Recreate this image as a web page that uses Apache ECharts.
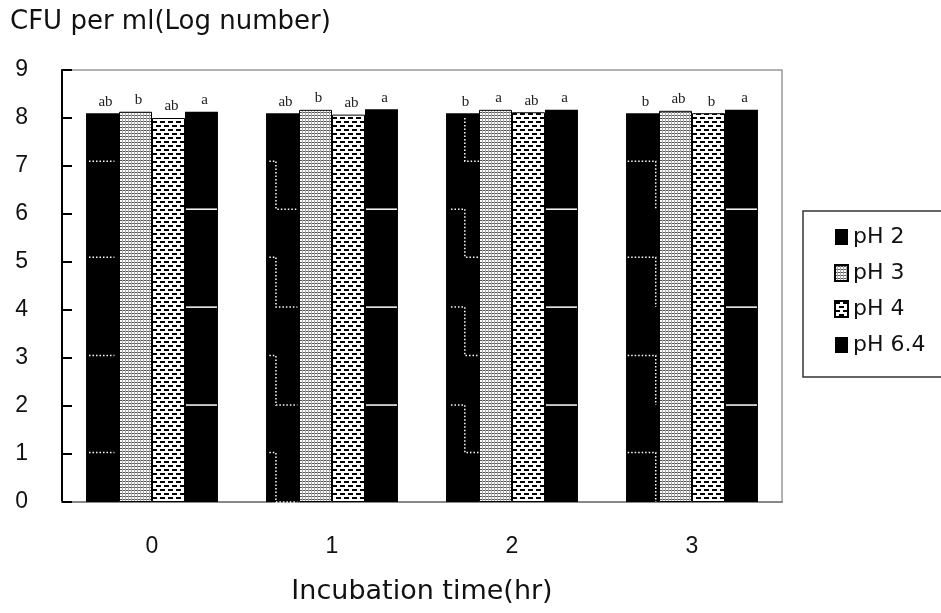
<!DOCTYPE html>
<html>
<head>
<meta charset="utf-8">
<script src="https://cdn.jsdelivr.net/npm/echarts@6/dist/echarts.min.js"></script>
<style>html,body{margin:0;padding:0;background:#fff}#c{width:941px;height:613px}</style>
</head>
<body>
<div id="c"></div>
<script>
// ---- data ----
const categories = ['0', '1', '2', '3'];
const seriesNames = ['pH 2', 'pH 3', 'pH 4', 'pH 6.4'];
const pH2  = [8.10, 8.10, 8.10, 8.10];
const pH3  = [8.13, 8.17, 8.17, 8.15];
const pH4  = [8.00, 8.07, 8.12, 8.10];
const pH64 = [8.13, 8.18, 8.17, 8.17];
const letters2  = ['ab', 'ab', 'b', 'b'];
const letters3  = ['b', 'b', 'a', 'ab'];
const letters4  = ['ab', 'ab', 'ab', 'b'];
const letters64 = ['a', 'a', 'a', 'a'];
// artefact lines seen inside bars (value levels)
const oddLevels  = [1.03, 3.05, 5.1, 7.1];
const evenLevels = [0, 2.02, 4.06, 6.1];
const whiteLevels = [2.02, 4.06, 6.1];

// ---- styles ----
const GAP = 0.267;
const FONT = 'Liberation Sans, Arial, sans-serif';
const WIDE = 'DejaVu Sans, sans-serif';

function pattern3() {
  const c = document.createElement('canvas'); c.width = 3; c.height = 3;
  const x = c.getContext('2d');
  x.fillStyle = '#fff'; x.fillRect(0, 0, 3, 3);
  x.fillStyle = '#555'; x.fillRect(0, 1, 2, 1);
  x.fillStyle = '#aaa'; x.fillRect(2, 0, 1, 3);
  return c;
}
function pattern4() {
  const c = document.createElement('canvas'); c.width = 8; c.height = 8;
  const x = c.getContext('2d');
  x.fillStyle = '#fff'; x.fillRect(0, 0, 8, 8);
  x.fillStyle = '#000';
  x.fillRect(0, 1, 5, 2);
  x.fillRect(4, 5, 4, 2); x.fillRect(0, 5, 1, 2);
  return c;
}

const stepStyle = [
  {upper: 'odd', lower: false, a: 0.09, b: 0.86, c: 0.86},
  {upper: 'odd', lower: true, a: 0.1, b: 0.3, c: 0.95},
  {upper: 'evenAbove', lower: true, a: 0.15, b: 0.57, c: 1.0},
  {upper: 'odd', lower: true, a: 0.05, b: 0.9, c: 0.9}
];

function renderDeco(params, api) {
  const g = params.dataIndex;
  const cat = api.value(0);
  const band = api.size([1, 0])[0];
  const groupW = band * (1 - GAP);
  const bw = groupW / 4;
  const cx = api.coord([cat, 0])[0];
  const xL = cx - groupW / 2;
  const x64 = cx + groupW / 4;
  const yy = v => api.coord([cat, v])[1];
  const children = [];
  whiteLevels.forEach(v => {
    children.push({type: 'line', shape: {x1: x64 + 1, y1: yy(v), x2: x64 + bw - 1, y2: yy(v)},
      style: {stroke: '#fff', lineWidth: 1.5}});
  });
  const s = stepStyle[g];
  for (let i = 0; i < oddLevels.length; i++) {
    let U, L;
    if (s.upper === 'odd') { U = oddLevels[i]; L = evenLevels[i]; }
    else { U = i < 3 ? evenLevels[i + 1] : pH2[g] - 0.1; L = oddLevels[i]; }
    const pts = [];
    if (!(s.upper === 'evenAbove' && i === 3)) pts.push([xL + s.a * bw, yy(U)]);
    pts.push([xL + s.b * bw, yy(U)]);
    if (s.lower) {
      pts.push([xL + s.b * bw, yy(L)]);
      if (s.c > s.b) pts.push([xL + s.c * bw, yy(L)]);
    }
    children.push({type: 'polyline', shape: {points: pts},
      style: {stroke: '#fff', lineWidth: 1.5, lineDash: [1.5, 2], fill: null}});
  }
  return {type: 'group', children};
}

function labelFor(arr) {
  return {show: true, position: 'top', distance: 4, offset: [3, 0],
    formatter: p => arr[p.dataIndex],
    fontFamily: 'Liberation Serif, Times New Roman, serif', fontSize: 15, color: '#222'};
}

const chart = echarts.init(document.getElementById('c'), null, {renderer: 'canvas'});
chart.setOption({
  backgroundColor: '#fff',
  animation: false,
  title: {text: 'CFU per ml(Log number)', left: 5, top: 4,
    textStyle: {fontFamily: WIDE, fontSize: 26, fontWeight: 'normal', color: '#111'}},
  grid: {left: 62, right: 159, top: 70, bottom: 111, show: true, borderColor: '#999', borderWidth: 1.5},
  legend: {
    data: seriesNames, orient: 'vertical', left: 829, top: 220,
    itemWidth: 13, itemHeight: 16, itemGap: 12, icon: 'rect',
    textStyle: {fontFamily: WIDE, fontSize: 22, color: '#111', lineHeight: 24}
  },
  graphic: [{type: 'rect', shape: {x: 803, y: 211, width: 170, height: 166},
    style: {stroke: '#333', lineWidth: 1.5, fill: null}, silent: true}],
  xAxis: {
    type: 'category', data: categories,
    name: 'Incubation time(hr)', nameLocation: 'middle', nameGap: 76,
    nameTextStyle: {fontFamily: WIDE, fontSize: 27, color: '#111'},
    axisLine: {lineStyle: {color: '#888', width: 2}},
    axisTick: {inside: true, length: 8, lineStyle: {color: '#444', width: 1.5}},
    axisLabel: {fontFamily: FONT, fontSize: 23, color: '#111', margin: 33}
  },
  yAxis: {
    type: 'value', min: 0, max: 9, interval: 1,
    axisLine: {show: true, lineStyle: {color: '#000', width: 2}},
    axisTick: {show: true, inside: true, length: 10, lineStyle: {color: '#000', width: 2}},
    axisLabel: {fontFamily: FONT, fontSize: 23, color: '#111', margin: 34},
    splitLine: {show: false}
  },
  series: [
    {name: seriesNames[0], type: 'bar', data: pH2, barGap: '0%', barCategoryGap: (GAP * 100) + '%',
      itemStyle: {color: '#000'}, label: labelFor(letters2)},
    {name: seriesNames[1], type: 'bar', data: pH3,
      itemStyle: {color: {image: pattern3(), repeat: 'repeat'}, borderColor: '#000', borderWidth: 1},
      label: labelFor(letters3)},
    {name: seriesNames[2], type: 'bar', data: pH4,
      itemStyle: {color: {image: pattern4(), repeat: 'repeat'}, borderColor: '#000', borderWidth: 1},
      label: labelFor(letters4)},
    {name: seriesNames[3], type: 'bar', data: pH64,
      itemStyle: {color: '#000'}, label: labelFor(letters64)},
    {type: 'custom', data: categories.map((c, i) => [i, 0]), encode: {x: 0, y: 1},
      renderItem: renderDeco, silent: true, z: 5, tooltip: {show: false}}
  ]
});
</script>
</body>
</html>
